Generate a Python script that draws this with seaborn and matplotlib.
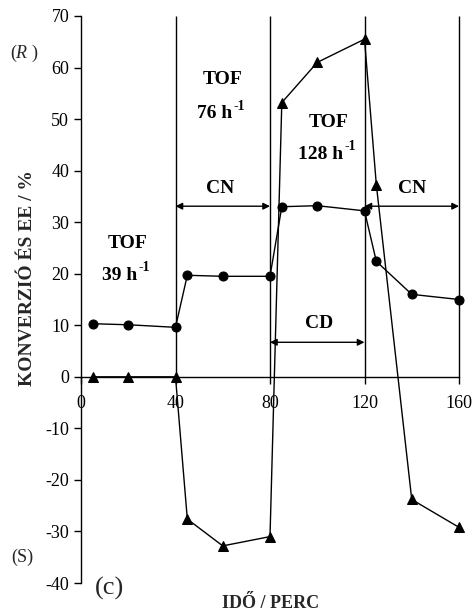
import matplotlib
matplotlib.use("Agg")
import matplotlib.pyplot as plt
import seaborn as sns
import pandas as pd

# Reaction time (min) and measured values
time_conv = [5, 20, 40, 45, 60, 80, 85, 100, 120, 125, 140, 160]
conversion = [10.3, 10.1, 9.6, 19.7, 19.5, 19.5, 33.0, 33.2, 32.2, 22.4, 16.0, 15.0]
time_ee = [5, 20, 40, 45, 60, 80, 85, 100, 120, 125, 140, 160]
ee = [0.0, 0.0, 0.0, -27.6, -32.8, -31.0, 53.2, 61.0, 65.5, 37.3, -23.8, -29.2]

phase_bounds = [40, 80, 120, 160]
x_ticks = [0, 40, 80, 120, 160]
y_ticks = [-40, -30, -20, -10, 0, 10, 20, 30, 40, 50, 60, 70]

sns.set_style("ticks")
plt.rcParams["font.family"] = ["Liberation Serif", "DejaVu Serif"]
plt.rcParams["axes.unicode_minus"] = False
plt.rcParams["mathtext.fontset"] = "custom"
plt.rcParams["mathtext.rm"] = "Liberation Serif"
plt.rcParams["mathtext.it"] = "Liberation Serif:italic"
plt.rcParams["mathtext.bf"] = "Liberation Serif:bold"

fig = plt.figure(figsize=(4.75, 6.14), dpi=100)
ax = fig.add_axes([81 / 475, 1 - 583 / 614, 378 / 475, 567 / 614])

df_conv = pd.DataFrame({"t": time_conv, "v": conversion})
df_ee = pd.DataFrame({"t": time_ee, "v": ee})

sns.lineplot(data=df_conv, x="t", y="v", ax=ax, color="black", lw=1.0,
             marker="o", markersize=6.5, markeredgecolor="black", zorder=3,
             clip_on=False)
sns.lineplot(data=df_ee, x="t", y="v", ax=ax, color="black", lw=1.0,
             marker="^", markersize=6.5, markeredgecolor="black", zorder=3,
             clip_on=False)

# Phase boundaries
ax.vlines(phase_bounds, 0, 70, colors="black", lw=1.0, zorder=2,
          clip_on=False)

ax.set_xlim(0, 160)
ax.set_ylim(-40, 70)
ax.set_xticks(x_ticks)
ax.set_yticks(y_ticks)
ax.tick_params(axis="both", labelsize=13, width=1.0, length=5, color="black",
               labelcolor="black")
ax.tick_params(axis="x", pad=8)
ax.spines["bottom"].set_position(("data", 0))
ax.spines["right"].set_visible(False)
ax.spines["top"].set_visible(False)
for s in ("left", "bottom"):
    ax.spines[s].set_color("black")
    ax.spines[s].set_linewidth(1.0)
ax.set_xlabel("")
ax.set_ylabel("")

# Phase arrows
arrow_kw = dict(arrowstyle="<|-|>", lw=1.0, color="black",
                mutation_scale=10, shrinkA=0, shrinkB=0)
ax.annotate("", xy=(40, 33.1), xytext=(80, 33.1), arrowprops=arrow_kw)
ax.annotate("", xy=(120, 33.1), xytext=(160, 33.1), arrowprops=arrow_kw)
ax.annotate("", xy=(80, 6.7), xytext=(120, 6.7), arrowprops=arrow_kw)

bold = dict(fontsize=14, fontweight="bold", ha="center", va="center",
            color="black")


def rate_label(x, y, value):
    """Draw '<value> h' with a raised '-1' exponent."""
    base = ax.text(x, y, f"{value} h", **bold)
    ax.annotate("-1", xy=(1.0, 0.55), xycoords=base, xytext=(1, 0),
                textcoords="offset points", fontsize=10, fontweight="bold",
                ha="left", va="bottom", color="black")


ax.text(19.5, 25.9, "TOF", **bold)
rate_label(16.3, 19.7, 39)
ax.text(60.1, 57.6, "TOF", **bold)
rate_label(56.4, 51.0, 76)
ax.text(104.6, 49.4, "TOF", **bold)
rate_label(101.2, 43.2, 128)
ax.text(58.8, 36.6, "CN", **bold)
ax.text(140.1, 36.6, "CN", **bold)
ax.text(100.7, 10.4, "CD", **bold)

# Axis titles and annotations
fig.text(28 / 475, 1 - 278 / 614, "KONVERZIÓ ÉS EE / %", rotation=90,
         fontsize=14, fontweight="bold", ha="center", va="center")
fig.text(271 / 475, 1 - 604 / 614, "IDŐ / PERC", fontsize=13,
         fontweight="bold", ha="center", va="center")
fig.text(24 / 475, 1 - 53 / 614, r"($\mathit{R}$ )", fontsize=13,
         ha="center", va="center")
fig.text(22 / 475, 1 - 557 / 614, "(S)", fontsize=13, ha="center",
         va="center")
fig.text(110 / 475, 1 - 588 / 614, "(c)", fontsize=19, ha="center",
         va="center")

fig.savefig("out.png", dpi=100)
